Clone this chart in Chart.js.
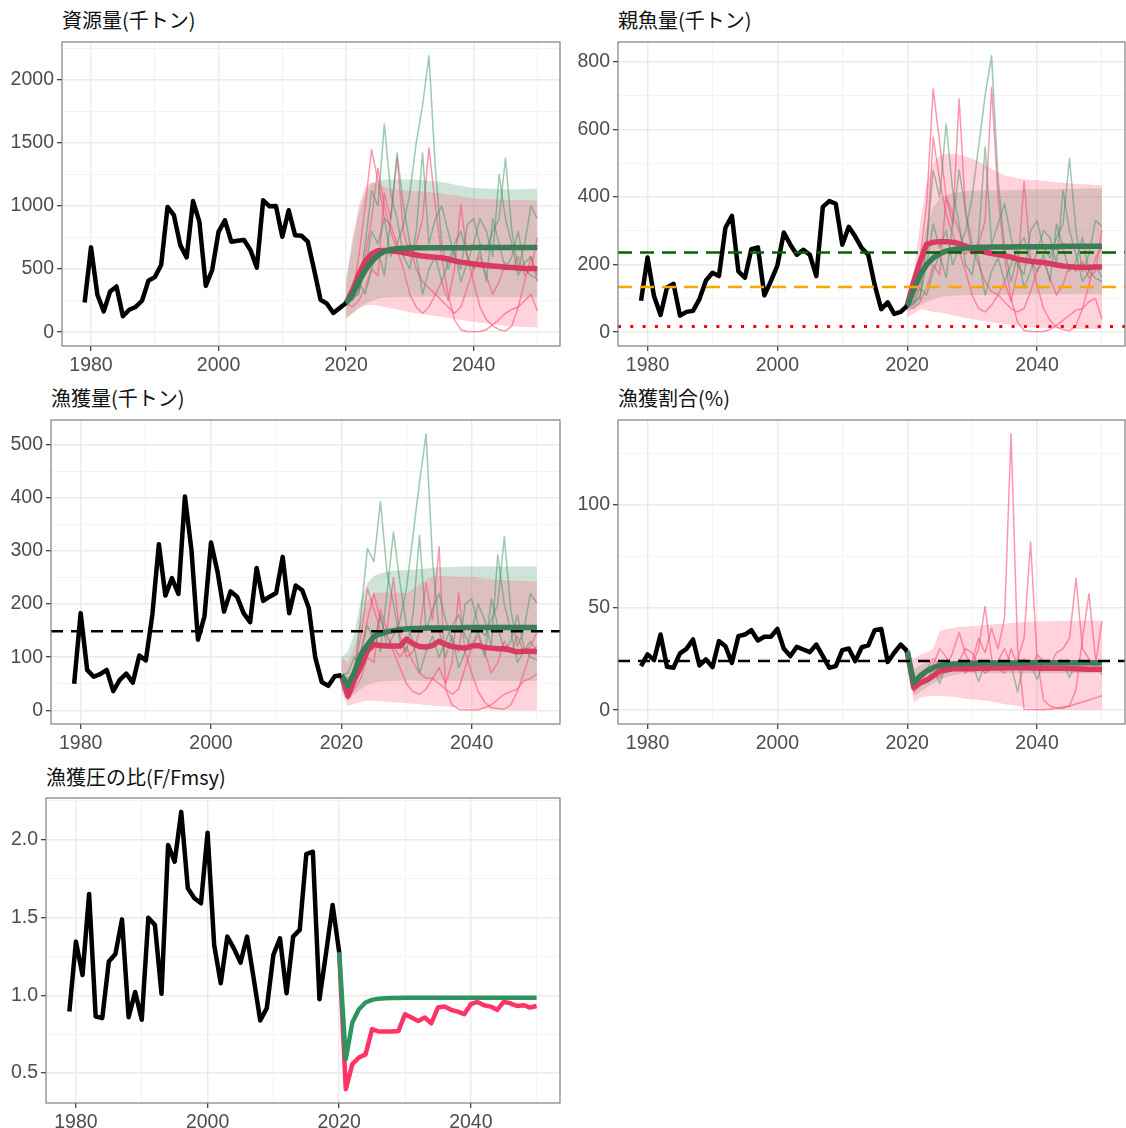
<!DOCTYPE html>
<html><head><meta charset="utf-8">
<script src="https://cdn.jsdelivr.net/npm/chart.js@4.4.0/dist/chart.umd.min.js"></script>
<style>
html,body{margin:0;padding:0;background:#fff}
body{width:1126px;height:1128px;position:relative;overflow:hidden}
.t{position:absolute;font-family:"Noto Sans CJK JP","Noto Sans",sans-serif;font-size:20px;line-height:24px;color:#111;white-space:nowrap}
canvas{position:absolute}
</style></head><body>
<div class="t" style="left:62px;top:8px">資源量(千トン)</div>
<div class="t" style="left:618px;top:8px">親魚量(千トン)</div>
<div class="t" style="left:51px;top:386px">漁獲量(千トン)</div>
<div class="t" style="left:618px;top:386px">漁獲割合(%)</div>
<div class="t" style="left:46px;top:765px">漁獲圧の比(F/Fmsy)</div>
<canvas id="c1" width="565" height="378" style="left:0;top:0"></canvas>
<canvas id="c2" width="561" height="378" style="left:565px;top:0"></canvas>
<canvas id="c3" width="565" height="378" style="left:0;top:378px"></canvas>
<canvas id="c4" width="561" height="378" style="left:565px;top:378px"></canvas>
<canvas id="c5" width="565" height="372" style="left:0;top:756px"></canvas>
<script>
// ---------- years ----------
const histYears = [1979,1980,1981,1982,1983,1984,1985,1986,1987,1988,1989,1990,1991,1992,1993,1994,1995,1996,1997,1998,1999,2000,2001,2002,2003,2004,2005,2006,2007,2008,2009,2010,2011,2012,2013,2014,2015,2016,2017,2018,2019,2020];
const projYears = [2020,2021,2022,2023,2024,2025,2026,2027,2028,2029,2030,2031,2032,2033,2034,2035,2036,2037,2038,2039,2040,2041,2042,2043,2044,2045,2046,2047,2048,2049,2050];
const xMajor = [1980,2000,2020,2040];
const xMinor = [1990,2010,2030,2050];

// ---------- 資源量 ----------
const bioHist = [236,672,297,165,323,362,126,178,200,249,407,436,533,992,927,690,593,1039,874,367,493,795,887,717,724,730,651,512,1045,997,1000,756,966,769,764,717,493,257,226,152,192,231];
const bioMedA = [231,300,400,490,560,610,640,655,662,666,668,669,670,670,670,670,670,670,670,670,671,671,671,671,671,671,672,672,672,672,672];
const bioMedB = [231,330,460,560,620,645,648,645,640,632,622,612,603,598,594,590,580,565,555,548,540,535,530,525,520,515,512,508,505,504,503];
const bioUpA = [420,700,950,1100,1180,1200,1210,1210,1210,1210,1210,1210,1205,1200,1195,1190,1180,1170,1160,1150,1145,1140,1138,1135,1132,1130,1130,1132,1134,1135,1135];
const bioLoA = [120,150,190,225,250,265,272,275,277,278,279,280,280,281,281,280,280,279,279,278,278,278,277,277,277,276,276,276,275,275,275];
const bioUpB = [380,750,1000,1150,1190,1170,1150,1135,1130,1125,1120,1118,1115,1110,1105,1100,1092,1085,1075,1068,1060,1057,1055,1053,1051,1050,1048,1047,1046,1045,1045];
const bioLoB = [100,150,190,210,215,210,200,190,180,170,158,150,143,136,128,120,112,104,96,88,80,74,68,62,56,50,47,44,41,39,37];
const bioSimA1 = [231,250,320,500,800,700,900,600,700,850,1100,1500,1800,2190,1300,700,500,650,400,550,700,900,800,600,1250,900,700,450,550,600,450];
const bioSimA2 = [231,280,300,700,1120,1000,1650,1100,900,600,500,800,1420,700,900,1000,800,600,500,850,900,700,650,800,900,1380,800,500,700,1000,900];
const bioSimA3 = [231,260,400,300,500,650,450,900,1420,1000,700,600,300,500,600,400,550,700,800,600,500,650,400,900,700,500,600,800,500,450,420];
const bioSimB1 = [231,300,600,1000,1446,1200,900,850,700,600,700,500,400,350,300,250,200,150,200,350,500,600,450,300,400,550,500,600,450,500,750];
const bioSimB2 = [231,200,250,350,500,450,1100,900,1380,800,600,700,900,1462,1000,600,300,100,20,5,3,5,20,60,100,150,180,200,250,300,168];
const bioSimB3 = [231,260,350,600,900,1300,1000,800,650,500,300,200,150,200,300,400,250,500,1011,600,400,200,100,50,20,10,50,200,400,600,400];
const bioYMajor = [0,500,1000,1500,2000];
const bioYMinor = [250,750,1250,1750,2250];

// ---------- 親魚量 ----------
const ssbHist = [93,221,107,51,132,143,49,60,63,98,153,176,166,309,344,180,161,246,251,109,151,197,295,259,229,244,229,166,371,388,380,259,312,283,249,229,139,68,88,54,60,78];
const ssbMedA = [78,125,170,200,220,232,240,244,247,249,250,251,251,252,252,252,252,253,253,253,253,253,253,253,254,254,254,254,254,254,254];
const ssbMedB = [78,150,210,260,266,268,268,266,262,255,248,242,237,233,230,226,222,216,213,210,208,206,203,199,196,194,192,192,192,193,193];
const ssbUpA = [100,150,230,320,370,395,405,411,415,418,419,420,420,420,420,420,421,421,422,422,422,423,423,423,424,424,424,425,425,425,425];
const ssbLoA = [60,70,80,90,98,103,106,108,109,109,110,110,110,110,111,111,111,111,111,111,112,112,112,112,112,112,112,112,112,112,112];
const ssbUpB = [100,176,323,441,500,523,528,529,525,520,514,505,495,484,474,464,460,456,453,451,450,448,446,444,442,440,439,438,437,436,435];
const ssbLoB = [44,55,68,65,60,58,55,50,46,42,38,35,32,29,26,24,22,20,18,16,14,13,12,11,10,10,9,9,9,9,9];
const ssbSimA1 = [78,80,110,200,320,250,300,200,250,300,400,550,700,818,450,250,150,230,130,180,240,300,280,200,420,300,230,150,180,200,162];
const ssbSimA2 = [78,90,100,260,479,400,617,420,320,200,170,280,548,260,320,380,280,200,170,300,330,250,220,280,320,514,300,180,230,330,313];
const ssbSimA3 = [78,85,130,110,180,230,160,320,480,360,260,220,110,180,220,150,200,250,280,210,180,230,150,320,250,180,210,280,180,160,150];
const ssbSimB1 = [78,110,220,380,720,560,400,350,300,230,250,200,150,120,110,90,70,60,70,120,180,210,160,110,140,200,180,210,160,180,303];
const ssbSimB2 = [78,70,90,130,200,170,400,320,690,350,230,260,330,724,400,220,100,30,5,2,1,2,8,20,35,50,65,70,90,100,38];
const ssbSimB3 = [78,95,140,250,577,450,350,290,240,180,110,70,60,80,110,150,90,180,445,220,140,70,35,15,8,4,20,70,140,220,250];
const ssbTarget = 236, ssbLimit = 134, ssbBan = 17;
const ssbYMajor = [0,200,400,600,800];
const ssbYMinor = [100,300,500,700];

// ---------- 漁獲量 ----------
const catchHist = [50,183,76,63,68,76,36,57,69,52,103,94,180,313,216,249,219,403,302,133,177,316,261,186,224,214,183,166,268,206,214,221,289,183,235,226,193,99,53,46,64,66];
const catchMedA = [66,46,71,105,123,139,144,148,150,152,153,154,154,155,155,155,155,155,155,156,156,156,156,156,156,156,156,156,156,156,156];
const catchMedB = [66,27,58,83,112,124,122,121,121,121,134,125,120,119,122,130,124,120,118,117,121,122,118,117,116,116,113,110,111,111,110];
const catchUpA = [100,110,146,208,240,253,258,261,263,264,264,265,266,267,268,270,270,270,271,271,271,271,271,271,271,271,271,271,271,271,271];
const catchLoA = [40,18,30,40,47,52,54,55,55,56,56,56,55,55,55,56,56,55,55,55,55,55,56,56,55,55,55,55,55,55,55];
const catchUpB = [100,90,120,170,205,221,222,222,222,222,221,228,238,246,252,253,253,252,252,252,252,250,248,247,246,245,245,244,244,243,243];
const catchLoB = [35,8,12,16,18,18,17,16,15,14,13,12,11,10,9,8,7,6,5,4,3,2,2,1,1,1,0,0,0,0,0];
const catchSimA1 = [66,60,70,110,160,130,180,120,140,170,230,330,430,521,280,150,100,140,80,110,150,200,170,120,293,200,150,90,110,130,111];
const catchSimA2 = [66,50,65,180,305,280,393,260,200,130,110,180,330,150,190,220,170,130,110,200,210,160,140,170,200,327,190,120,150,220,202];
const catchSimA3 = [66,70,100,80,120,150,110,220,336,240,160,130,70,110,140,100,130,160,180,140,120,150,100,210,160,110,130,180,120,100,95];
const catchSimB1 = [66,25,80,140,230,190,150,140,120,100,120,90,70,60,60,50,40,30,40,80,120,140,110,70,90,130,110,140,110,120,146];
const catchSimB2 = [66,20,40,60,100,90,190,150,250,140,100,110,150,240,170,308,40,10,2,1,1,1,5,10,20,30,35,40,55,60,68];
const catchSimB3 = [66,30,60,110,170,220,170,140,110,80,50,35,30,40,60,80,50,90,221,110,70,35,15,5,3,2,10,35,70,110,120];
const catchRef = 149;
const catchYMajor = [0,100,200,300,400,500];
const catchYMinor = [50,150,250,350,450];

// ---------- 漁獲割合 ----------
const rateHist = [21.5,27.2,24.4,36.9,21.2,20.7,27.7,29.9,34.5,21.8,24.8,21.0,33.7,31.2,23.1,36.1,36.9,39.0,34.0,35.8,35.8,39.6,29.9,26.4,30.9,29.6,28.3,32.0,26.4,20.7,21.5,29.3,30.1,23.9,30.7,31.6,39.0,39.6,23.5,28.0,32.0,28.8];
const rateMedA = [28.8,13.4,16.7,19.1,20.7,21.8,22.2,22.5,22.7,22.8,22.9,22.9,23.0,23.0,23.0,23.0,23.0,23.0,23.1,23.1,23.1,23.1,23.1,23.1,23.1,23.1,23.1,23.1,23.1,23.1,23.1];
const rateMedB = [28.8,11.0,13.4,14.6,16.7,19.1,19.6,20.2,20.2,20.2,20.2,20.4,20.5,20.6,20.6,20.7,20.7,20.7,20.7,20.6,20.6,20.5,20.5,20.4,20.4,20.3,20.2,20.1,20.0,19.9,19.9];
const rateUpA = [28.8,20,22,23,23.5,24,24,24.1,24.1,24.1,24.2,24.2,24.2,24.2,24.2,24.2,24.2,24.2,24.2,24.2,24.2,24.2,24.2,24.2,24.2,24.2,24.2,24.2,24.2,24.2,24.2];
const rateLoA = [28.8,7,9,11,13,15,16,17,17.5,18,18,18,18,18,18,18,18,18,18,18,18,18,18,18,18,18,18,18,18,18,18];
const rateUpB = [28.8,24.8,27,28,30,38.5,39.5,40,40.5,40.8,40.9,41.2,41.5,41.8,42,42.2,42.5,42.7,43,43.2,43.4,43.4,43.4,43.5,43.5,43.5,43.6,43.6,43.7,43.7,43.7];
const rateLoB = [28.8,3.7,6.1,6.8,7,7,6.8,6.5,6,5.6,5.3,5,4.6,4.2,3.6,2.9,2.5,2,1.5,1,0.5,0.4,0.3,0.3,0.2,0.2,0.2,0.2,0.2,0.2,0.2];
const rateSimA1 = [28.8,13,17,19,21,22,23,23,23,24,23,14,23,24,23,23,22,9,23,24,23,23,24,23,23,24,23,23,24,22,23];
const rateSimA2 = [28.8,14,18,15,20,13,22,21,23,24,20,23,24,22,21,23,24,22,21,23,15,23,24,22,23,16,23,24,23,22,23];
const rateSimB1 = [28.8,12,15,20,25,22,21,28,38,27,22,30,50.6,25,20,18,30,22,25,20,27,24,22,28,30,35,64.4,30,25,22,43.4];
const rateSimB2 = [28.8,9,12,14,17,16,24,20,22,18,24,35,28,40,30,45,134.8,30,0.5,0.3,0.2,0.2,0.5,1,1.5,2,3,4,5,6,7];
const rateSimB3 = [28.8,10,14,18,22,30,26,20,24,30,28,22,18,20,24,30,22,25,35,82,25,5,2,1,1,2,10,35,56.8,25,17];
const rateRef = 24;
const rateYMajor = [0,50,100];
const rateYMinor = [25,75,125];

// ---------- 漁獲圧の比 ----------
const fHist = [0.895,1.344,1.130,1.650,0.863,0.853,1.216,1.265,1.487,0.859,1.021,0.842,1.498,1.451,1.009,1.964,1.857,2.177,1.686,1.622,1.590,2.043,1.323,1.077,1.376,1.301,1.209,1.376,1.109,0.838,0.917,1.259,1.365,1.013,1.376,1.419,1.906,1.921,0.974,1.269,1.579,1.276];
const fA = [1.276,0.590,0.825,0.910,0.953,0.970,0.978,0.980,0.982,0.982,0.983,0.983,0.983,0.983,0.983,0.983,0.983,0.983,0.983,0.983,0.983,0.983,0.983,0.983,0.983,0.983,0.983,0.983,0.983,0.983,0.983];
const fB = [1.276,0.397,0.558,0.600,0.620,0.782,0.767,0.767,0.767,0.770,0.878,0.857,0.835,0.857,0.820,0.921,0.927,0.906,0.895,0.878,0.942,0.957,0.936,0.927,0.906,0.957,0.948,0.931,0.936,0.921,0.931];
const fYMajor = [0.5,1.0,1.5,2.0];
const fYMinor = [0.75,1.25,1.75,2.25];

// ---------- helpers ----------
const XMIN = 1975.45, XMAX = 2053.55;
const GREEN_MED = '#3a7d56', RED_MED = '#d93a60';
const GREEN_SIM = 'rgba(60,150,100,0.5)', RED_SIM = 'rgba(255,80,120,0.6)';
const GREEN_RIB = 'rgba(46,139,87,0.23)', RED_RIB = 'rgba(255,105,140,0.3)';
const tickFont = {family:'"Liberation Sans", Arimo, Arial, sans-serif', size:19.5};

function pts(xs, ys){ return xs.map((x,i)=>({x:x, y:ys[i]})); }
function line(xs, ys, color, width, extra){ return Object.assign({data:pts(xs,ys), borderColor:color, borderWidth:width, pointRadius:0, fill:false, tension:0, borderJoinStyle:'round'}, extra||{}); }
function hline(v, color, dash, width){ return {data:[{x:XMIN,y:v},{x:XMAX,y:v}], borderColor:color, borderWidth:width||2.5, borderDash:dash, pointRadius:0, fill:false}; }
function ribbon(up, lo, color){
  return [
    {data:pts(projYears,up), borderWidth:0, borderColor:'rgba(0,0,0,0)', backgroundColor:color, pointRadius:0, fill:'+1', tension:0},
    {data:pts(projYears,lo), borderWidth:0, borderColor:'rgba(0,0,0,0)', pointRadius:0, fill:false, tension:0}
  ];
}
function axis(min, max, major, minor, fmt, fitFn){
  return {
    type:'linear', min:min, max:max, bounds:'data',
    afterBuildTicks: s => {
      s.ticks = major.map(v=>({value:v, mj:true})).concat(minor.filter(v=>v>=min&&v<=max).map(v=>({value:v, mj:false}))).sort((a,b)=>a.value-b.value);
    },
    ticks:{ callback:(v,i,t)=> t[i].mj ? fmt(v) : '', font:tickFont, color:'#4d4d4d', padding:3, autoSkip:false, maxRotation:0, minRotation:0 },
    grid:{
      color: c => (c.tick && c.tick.mj) ? '#ebebeb' : '#f3f3f3',
      lineWidth: c => (c.tick && c.tick.mj) ? 1.4 : 0.9,
      tickColor: c => (c.tick && c.tick.mj) ? '#333333' : 'rgba(0,0,0,0)',
      tickWidth: 1.2, tickLength:5, drawTicks:true
    },
    border:{display:false},
    afterFit: fitFn
  };
}
const frame = { id:'frame', afterDraw(chart){ const a=chart.chartArea, c=chart.ctx; c.save(); c.strokeStyle='#7f7f7f'; c.lineWidth=1.2; c.strokeRect(a.left, a.top, a.right-a.left, a.bottom-a.top); c.restore(); } };

function make(id, datasets, ymin, ymax, yMaj, yMin, yfmt, yW, xH, padTop, padRight){
  new Chart(document.getElementById(id), {
    type:'line',
    data:{datasets:datasets},
    options:{
      responsive:false, animation:false, devicePixelRatio:1,
      layout:{padding:{top:padTop, right:padRight, left:0, bottom:0}},
      plugins:{legend:{display:false}, tooltip:{enabled:false}, title:{display:false}},
      scales:{
        x: axis(XMIN, XMAX, xMajor, xMinor, v=>String(v), s=>{ s.height=xH; s.paddingLeft=0; s.paddingRight=0; }),
        y: axis(ymin, ymax, yMaj, yMin, yfmt, s=>{ s.width=yW; s.paddingTop=0; s.paddingBottom=0; })
      }
    },
    plugins:[frame]
  });
}

function projSet(hist, medA, medB, simsA, simsB, upA, loA, upB, loB, refs){
  return [].concat(
    refs,
    [line(histYears, hist, '#000000', 4.5)],
    [line(projYears, medA, GREEN_MED, 5.5)],
    [line(projYears, medB, RED_MED, 5.5)],
    simsA.map(s=>line(projYears, s, GREEN_SIM, 1.5)),
    simsB.map(s=>line(projYears, s, RED_SIM, 1.5)),
    ribbon(upB, loB, RED_RIB),
    ribbon(upA, loA, GREEN_RIB)
  );
}

make('c1', projSet(bioHist, bioMedA, bioMedB, [bioSimA1,bioSimA2,bioSimA3], [bioSimB1,bioSimB2,bioSimB3], bioUpA, bioLoA, bioUpB, bioLoB, []),
  -109.5, 2299.5, bioYMajor, bioYMinor, v=>String(v), 62, 32, 42, 5);

make('c2', projSet(ssbHist, ssbMedA, ssbMedB, [ssbSimA1,ssbSimA2,ssbSimA3], [ssbSimB1,ssbSimB2,ssbSimB3], ssbUpA, ssbLoA, ssbUpB, ssbLoB,
  [hline(ssbTarget,'#006400',[14,8]), hline(ssbLimit,'#FFA500',[14,8]), hline(ssbBan,'#FF0000',[3,9.3],3)]),
  -41, 859, ssbYMajor, ssbYMinor, v=>String(v), 53, 32, 42, 1);

make('c3', projSet(catchHist, catchMedA, catchMedB, [catchSimA1,catchSimA2,catchSimA3], [catchSimB1,catchSimB2,catchSimB3], catchUpA, catchLoA, catchUpB, catchLoB,
  [hline(catchRef,'#000000',[12,8])]),
  -26, 547, catchYMajor, catchYMinor, v=>String(v), 51, 32, 42, 5);

make('c4', projSet(rateHist, rateMedA, rateMedB, [rateSimA1,rateSimA2], [rateSimB1,rateSimB2,rateSimB3], rateUpA, rateLoA, rateUpB, rateLoB,
  [hline(rateRef,'#000000',[12,8])]),
  -6.74, 141.5, rateYMajor, rateYMinor, v=>String(v), 53, 32, 42, 1);

make('c5', [
    line(histYears, fHist, '#000000', 4.5),
    line(projYears, fA, '#2e9462', 4.5),
    line(projYears, fB, '#ff3366', 4.5)
  ],
  0.308, 2.266, fYMajor, fYMinor, v=>v.toFixed(1), 46, 25, 42, 5);
</script>
</body></html>
